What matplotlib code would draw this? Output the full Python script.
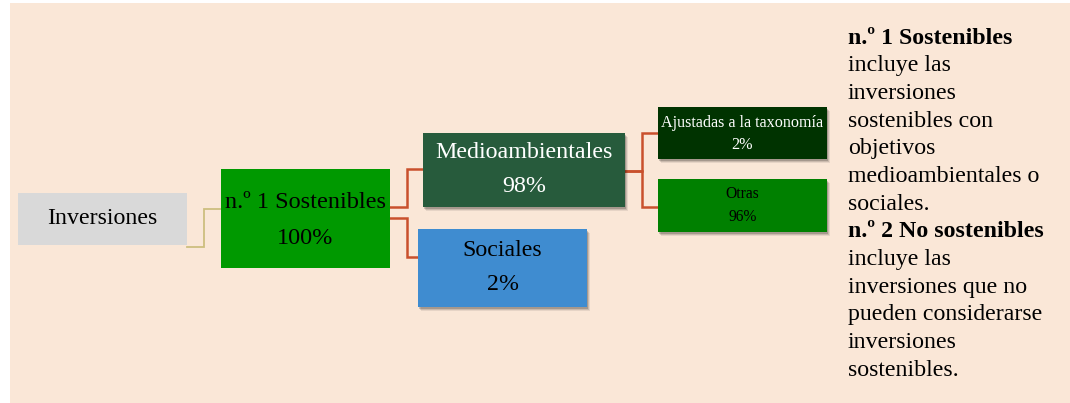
import matplotlib
matplotlib.use("Agg")
import matplotlib.pyplot as plt
from matplotlib.patches import Rectangle

# ---- data ----
node_labels = ["Inversiones", "n.º 1 Sostenibles", "Medioambientales", "Sociales",
               "Ajustadas a la taxonomía", "Otras"]
node_values = ["", "100%", "98%", "2%", "2%", "96%"]
# parent index for each node (-1 = root)
node_parent = [-1, 0, 1, 1, 2, 2]

legend_lines = [
    ("n.º 1 Sostenibles", True),
    ("incluye las", False),
    ("inversiones", False),
    ("sostenibles con", False),
    ("objetivos", False),
    ("medioambientales o", False),
    ("sociales.", False),
    ("n.º 2 No sostenibles", True),
    ("incluye las", False),
    ("inversiones que no", False),
    ("pueden considerarse", False),
    ("inversiones", False),
    ("sostenibles.", False),
]

# ---- layout / style (pixel coords, y downwards) ----
W, H = 1070, 403
boxes = [  # x0, y0, x1, y1
    (18, 193, 187, 245),
    (221, 169, 390, 268),
    (423, 133, 625, 207),
    (418, 229, 587, 307),
    (658, 107, 827, 159),
    (658, 179, 827, 232),
]
fills = ["#D9D9D9", "#009900", "#275B3C", "#3F8CD0", "#003300", "#008000"]
txtcol = ["black", "black", "white", "black", "white", "black"]
fsizes = [17.2, 17.5, 17.3, 17.2, 11.6, 11.2]
line1_y = [218, 203, 153, 251, 123, 194]
line2_y = [None, 238, 187, 285, 145, 217]
shadow = [False, False, True, True, True, True]
# connectors: (x_start, y_start, x_mid, y_end, x_end)
connectors = {
    1: (187, 247, 204, 209, 221, "#CDBF7F", 1.3),
    2: (390, 207, 407, 169, 423, "#C9502C", 1.8),
    3: (390, 218, 407, 257, 418, "#C9502C", 1.8),
    4: (625, 171, 642, 133, 658, "#C9502C", 1.8),
    5: (625, 171, 642, 207, 658, "#C9502C", 1.8),
}

plt.rcParams['font.family'] = ['Liberation Serif', 'DejaVu Serif']

fig = plt.figure(figsize=(W / 100, H / 100), dpi=100)
ax = fig.add_axes([0, 0, 1, 1])
ax.set_xlim(0, W)
ax.set_ylim(H, 0)
ax.axis("off")
fig.patch.set_facecolor("white")

ax.add_patch(Rectangle((10, 3), W - 10, H - 3, facecolor="#FAE7D7", edgecolor="none", zorder=0))

for i, (xs, ys, xm, ye, xe, col, lw) in connectors.items():
    ax.plot([xs, xm, xm, xe], [ys, ys, ye, ye], color=col, lw=lw, zorder=1,
            solid_joinstyle="miter")

for i, (x0, y0, x1, y1) in enumerate(boxes):
    if shadow[i]:
        for k, a in zip([4, 3, 2], [0.08, 0.12, 0.18]):
            ax.add_patch(Rectangle((x0 + k - 1, y0 + k), x1 - x0, y1 - y0,
                                   facecolor="#000000", alpha=a, edgecolor="none", zorder=2))
    ax.add_patch(Rectangle((x0, y0), x1 - x0, y1 - y0, facecolor=fills[i],
                           edgecolor="none", zorder=3))
    cx = (x0 + x1) / 2
    ax.text(cx, line1_y[i], node_labels[i], ha="center", va="center",
            fontsize=fsizes[i], color=txtcol[i], zorder=4)
    if node_values[i]:
        ax.text(cx, line2_y[i], node_values[i], ha="center", va="center",
                fontsize=fsizes[i], color=txtcol[i], zorder=4)

y = 38
for txt, bold in legend_lines:
    ax.text(848, y, txt, ha="left", va="center", fontsize=17.2,
            fontweight="bold" if bold else "normal", color="black")
    y += 27.7

fig.savefig("out.png", dpi=100, facecolor="white")
